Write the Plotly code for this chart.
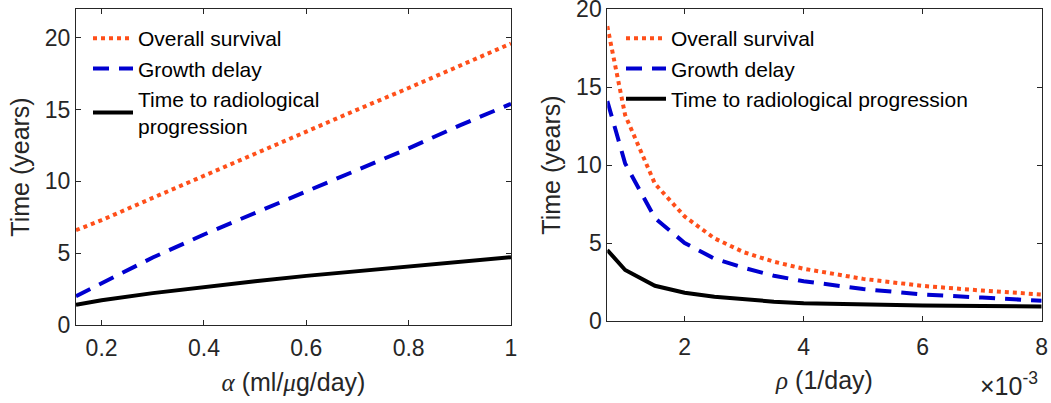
import plotly.graph_objects as go

# ---- data ----
alpha = [0.15, 0.2, 0.3, 0.4, 0.5, 0.6, 0.7, 0.8, 0.9, 1.0]
os_alpha = [6.6, 7.3, 8.85, 10.4, 11.95, 13.5, 15.0, 16.5, 18.05, 19.6]
gd_alpha = [2.0, 2.9, 4.7, 6.3, 7.8, 9.3, 10.8, 12.3, 13.9, 15.4]
ttp_alpha = [1.4, 1.72, 2.22, 2.65, 3.05, 3.42, 3.76, 4.08, 4.4, 4.72]

rho = [0.7, 1.0, 1.5, 2.0, 2.5, 3.0, 3.5, 4.0, 5.0, 6.0, 7.0, 8.0]  # x 10^-3
os_rho = [18.9, 13.2, 8.8, 6.7, 5.3, 4.4, 3.8, 3.35, 2.7, 2.25, 1.95, 1.7]
gd_rho = [14.1, 10.1, 6.6, 5.0, 4.0, 3.4, 2.9, 2.55, 2.05, 1.7, 1.5, 1.3]
ttp_rho = [4.55, 3.27, 2.26, 1.81, 1.55, 1.37, 1.24, 1.14, 1.05, 1.0, 0.96, 0.93]

left_xticks = [0.2, 0.4, 0.6, 0.8, 1]
left_xticklabels = ["0.2", "0.4", "0.6", "0.8", "1"]
right_xticks = [2, 4, 6, 8]
right_xticklabels = ["2", "4", "6", "8"]
yticks = [0, 5, 10, 15, 20]

names_left = ["Overall survival", "Growth delay", "Time to radiological<br>progression"]
names_right = ["Overall survival", "Growth delay", "Time to radiological progression"]

# ---- style ----
W, H = 1051, 403
FONT = "Liberation Sans, Arial, Helvetica, sans-serif"
TXT = "#262626"
C_OS = "#ff4f1a"
C_GD = "#0000d0"
C_TTP = "#000000"
LW = 4
styles = [(C_OS, "dot"), (C_GD, "16px,10px"), (C_TTP, "solid")]

fig = go.Figure()

for ys, (c, d), nm in zip([os_alpha, gd_alpha, ttp_alpha], styles, names_left):
    fig.add_trace(go.Scatter(x=alpha, y=ys, mode="lines", name=nm,
                             line=dict(color=c, width=LW, dash=d),
                             xaxis="x", yaxis="y", legend="legend"))
for ys, (c, d), nm in zip([os_rho, gd_rho, ttp_rho], styles, names_right):
    fig.add_trace(go.Scatter(x=rho, y=ys, mode="lines", name=nm,
                             line=dict(color=c, width=LW, dash=d),
                             xaxis="x2", yaxis="y2", legend="legend2"))

def px_x(p):
    return p / W

def px_y(p):
    return 1 - p / H

axis_common = dict(showline=True, linecolor=TXT, linewidth=1, mirror="allticks",
                   ticks="inside", ticklen=5, tickcolor=TXT, showgrid=False,
                   zeroline=False, tickfont=dict(family=FONT, size=23, color=TXT),
                   automargin=False, ticklabeloverflow="allow")

greek = "font-family:'Liberation Serif', 'DejaVu Serif', serif;font-style:italic"
title_font = dict(family=FONT, size=25, color=TXT)
leg_font = dict(family=FONT, size=21, color="#000000")

fig.update_layout(
    width=W, height=H,
    margin=dict(l=0, r=0, t=0, b=0),
    paper_bgcolor="white", plot_bgcolor="white",
    font=dict(family=FONT, color=TXT),
    xaxis=dict(domain=[px_x(76), px_x(511)], range=[0.15, 1], tickvals=left_xticks,
               ticktext=left_xticklabels, anchor="y", ticklabelstandoff=2,
               title=dict(text=f"<span style=\"{greek}\">α</span> (ml/<span style=\"{greek}\">μ</span>g/day)",
                          font=title_font, standoff=13),
               **axis_common),
    yaxis=dict(domain=[px_y(325), px_y(9)], range=[0, 22], tickvals=yticks, anchor="x",
               title=dict(text="Time (years)", font=title_font, standoff=8),
               **axis_common),
    xaxis2=dict(domain=[px_x(607.3), px_x(1041.7)], range=[0.7, 8], tickvals=right_xticks,
                ticktext=right_xticklabels, anchor="y2", ticklabelstandoff=5,
                title=dict(text=f"<span style=\"{greek}\">ρ</span> (1/day)",
                           font=title_font, standoff=12),
                **axis_common),
    yaxis2=dict(domain=[px_y(321), px_y(9)], range=[0, 20.0001], tickvals=yticks, anchor="x2",
                title=dict(text="Time (years)", font=title_font, standoff=8),
                **axis_common),
    legend=dict(x=px_x(88), y=px_y(18), xanchor="left", yanchor="top", itemwidth=40,
                bgcolor="rgba(0,0,0,0)", borderwidth=0, font=leg_font, tracegroupgap=0),
    legend2=dict(x=px_x(621), y=px_y(18), xanchor="left", yanchor="top", itemwidth=40,
                 bgcolor="rgba(0,0,0,0)", borderwidth=0, font=leg_font, tracegroupgap=0),
    annotations=[dict(text="×10<sup>-3</sup>", x=px_x(1040), y=px_y(384), xref="paper",
                      yref="paper", xanchor="right", yanchor="middle", showarrow=False,
                      font=dict(family=FONT, size=25, color=TXT))],
)

fig.write_html("out.html")
